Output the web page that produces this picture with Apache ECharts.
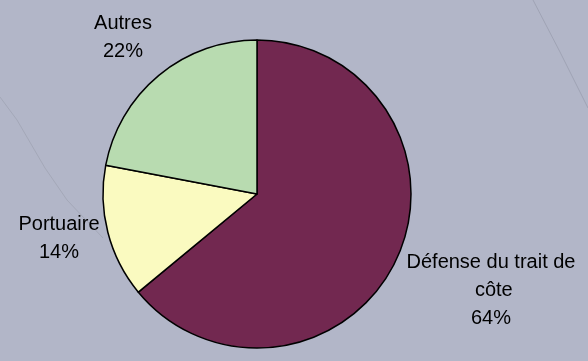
<!DOCTYPE html>
<html><head><meta charset="utf-8">
<script src="https://cdn.jsdelivr.net/npm/echarts@6/dist/echarts.min.js"></script>
<style>html,body{margin:0;padding:0;background:#b2b6c8;}#c{width:588px;height:361px;}</style>
</head><body><div id="c"></div>
<script>
const categories = ['Défense du trait de côte', 'Portuaire', 'Autres'];
const values = [64, 14, 22];
const colors = ['#722850', '#fafac0', '#b8dbb0'];
const labelPos = [[491, 290], [59, 238], [123, 37]];

const chart = echarts.init(document.getElementById('c'));
chart.setOption({
  backgroundColor: '#b2b6c8',
  animation: false,
  graphic: [
    { type: 'polyline', shape: { points: [[533, 0], [560, 52], [588, 108]] }, style: { stroke: '#9fa3b4', lineWidth: 1, fill: null } },
    { type: 'polyline', shape: { points: [[0, 97], [17, 120], [45, 168], [67, 200], [103, 238]] }, style: { stroke: '#a4a8b8', lineWidth: 1, fill: null } }
  ],
  series: [{
    type: 'pie',
    center: [257, 194],
    radius: 154,
    startAngle: 90,
    clockwise: true,
    data: categories.map((n, i) => ({ name: n, value: values[i], itemStyle: { color: colors[i] } })),
    itemStyle: { borderColor: '#000', borderWidth: 1.5 },
    emphasis: { disabled: true },
    labelLine: { show: false },
    label: {
      show: true,
      position: 'outside',
      formatter: '{b}\n{d}%',
      fontFamily: 'Liberation Sans, Arial, sans-serif',
      fontSize: 20,
      lineHeight: 28,
      color: '#000',
      align: 'center',
      width: 178,
      overflow: 'break'
    },
    labelLayout: function (p) {
      const pos = labelPos[p.dataIndex];
      return { x: pos[0], y: pos[1], align: 'center', verticalAlign: 'middle', hideOverlap: false };
    }
  }]
});
</script></body></html>
